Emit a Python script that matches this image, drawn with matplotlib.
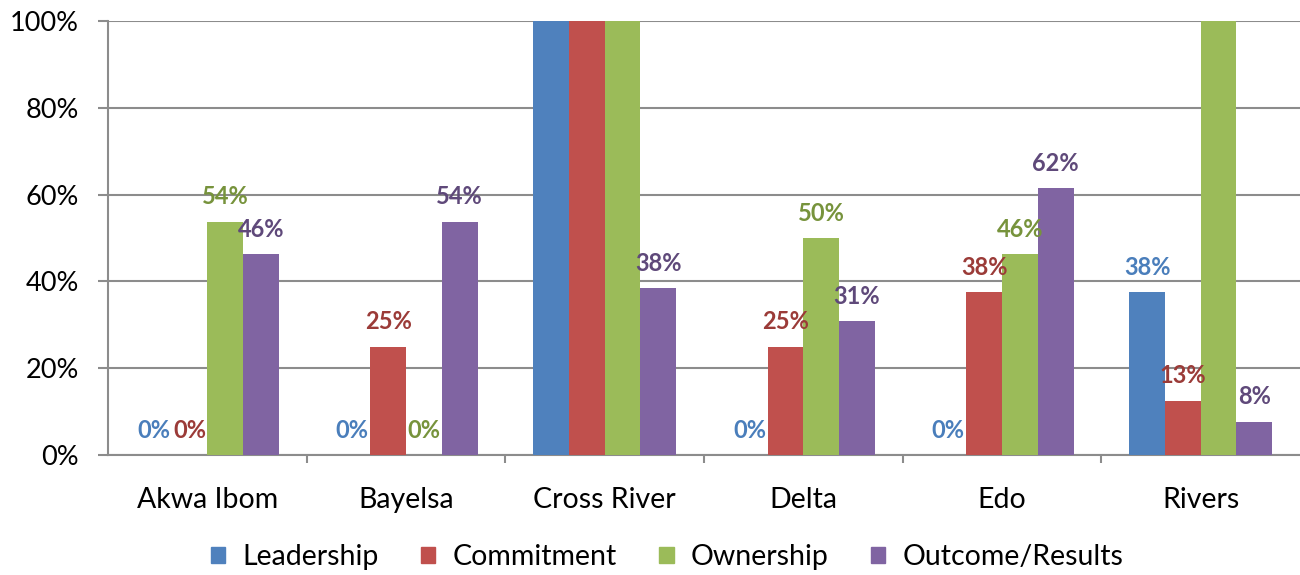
import matplotlib.pyplot as plt
import numpy as np
from matplotlib.patches import Patch

plt.rcParams['font.family'] = ['Lato', 'DejaVu Sans']

# data (percent)
states = ["Akwa Ibom", "Bayelsa", "Cross River", "Delta", "Edo", "Rivers"]
series = ["Leadership", "Commitment", "Ownership", "Outcome/Results"]
leadership = [0, 0, 100, 0, 0, 37.5]
commitment = [0, 25, 100, 25, 37.5, 12.5]
ownership = [53.8, 0, 100, 50, 46.2, 100]
outcome = [46.2, 53.8, 38.4, 30.8, 61.5, 7.7]

bar_colors = ["#4F81BD", "#C0504D", "#9BBB59", "#8064A2"]
label_colors = ["#4A7EBB", "#9B3B38", "#77933C", "#5F497A"]
grid_gray = "#8C8C8C"

values = [leadership, commitment, ownership, outcome]

fig = plt.figure(figsize=(13, 5.75), dpi=100)
ax = fig.add_axes([108 / 1300, 1 - 455 / 575, 1 - 108 / 1300, (455 - 21) / 575])

x = np.arange(len(states))
width = 0.18
for i, (vals, name) in enumerate(zip(values, series)):
    pos = x + (i - 1.5) * width
    ax.bar(pos, vals, width, color=bar_colors[i], label=name, zorder=3)
    for px, v in zip(pos, vals):
        # labels of bars that reach the top sit outside the plot area and are not shown
        if v >= 100:
            continue
        ax.annotate(f"{int(v + 0.5)}%", (px, v), xytext=(0, 12.5), textcoords="offset points",
                    ha="center", va="baseline", fontsize=17, fontweight="bold",
                    color=label_colors[i], zorder=4)

ax.set_xlim(-0.5, len(states) - 0.5)
ax.set_ylim(0, 100)
ax.set_yticks(np.arange(0, 101, 20))
ax.set_yticklabels([f"{t}%" for t in range(0, 101, 20)])
ax.set_xticks(x)
ax.set_xticklabels(states)
ax.set_xticks(np.arange(0.5, len(states) - 0.5, 1), minor=True)

ax.grid(axis="y", color=grid_gray, linewidth=1.5, zorder=0)
for s in ["top", "right"]:
    ax.spines[s].set_visible(False)
for s in ["left", "bottom"]:
    ax.spines[s].set_color(grid_gray)
    ax.spines[s].set_linewidth(1.5)

ax.tick_params(axis="y", length=7, width=1.5, color=grid_gray, pad=14, labelsize=19.5)
ax.tick_params(axis="x", which="major", length=0, pad=23, labelsize=20.5)
ax.tick_params(axis="x", which="minor", length=6, width=1.5, color=grid_gray)

handles = [Patch(color=c) for c in bar_colors]
fig.legend(handles, series, loc="center", bbox_to_anchor=(667 / 1300, 0.031), ncol=4,
           frameon=False, fontsize=20.5, handlelength=0.5, handleheight=0.5,
           handletextpad=0.6, columnspacing=1.5)

fig.savefig("out.png", dpi=100)
